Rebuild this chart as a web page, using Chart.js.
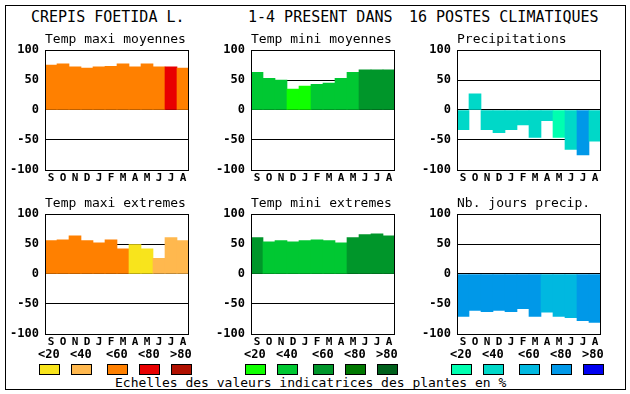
<!DOCTYPE html>
<html lang="fr">
  <head>
    <meta charset="UTF-8" />
    <title>Crepis foetida L.</title>
    <script src="https://cdn.jsdelivr.net/npm/chart.js"></script>
    <style>
      body {
        margin: 0;
        width: 630px;
        height: 394px;
        background: #fff;
        position: relative;
        overflow: hidden;
        font-family: "DejaVu Sans Mono", monospace;
      }
      .frame {
        position: absolute;
        left: 5px;
        top: 5px;
        width: 621px;
        height: 385px;
        border: 1px solid #000;
        box-sizing: border-box;
      }
      .txt {
        position: absolute;
        white-space: pre;
        color: #000;
        line-height: 1;
      }
      .big { font-size: 15px; }
      .sub { font-size: 13px; }
      .lab { font-size: 12px; font-weight: bold; }
      .box {
        position: absolute;
        width: 21px;
        height: 11px;
        border: 1px solid #000;
        box-sizing: border-box;
      }
      canvas { position: absolute; }
    </style>
  </head>
  <body>
    <div class="frame"></div>
    <div class="txt big" style="left: 31px; top: 10px">CREPIS FOETIDA L.</div>
    <div class="txt big" style="left: 248px; top: 10px">1-4 PRESENT DANS</div>
    <div class="txt big" style="left: 409px; top: 10px">16 POSTES CLIMATIQUES</div>
    <div class="txt sub" style="left: 115px; top: 376px">Echelles des valeurs indicatrices des plantes en %</div>

    <script>
      // months (sept -> aout)
      const months = ["S", "O", "N", "D", "J", "F", "M", "A", "M", "J", "J", "A"];
      const yTicks = [100, 50, 0, -50, -100];
      const legendLabels = ["<20", "<40", "<60", "<80", ">80"];

      // values (%)
      const maxiMoy = [75, 77, 72, 70, 72, 73, 77, 72, 77, 72, 72, 70];
      const miniMoy = [63, 53, 50, 35, 40, 43, 45, 53, 63, 67, 67, 67];
      const precip = [-33, 27, -33, -38, -33, -25, -46, -18, -46, -66, -75, -52];
      const maxiExt = [56, 57, 64, 56, 52, 57, 42, 49, 42, 26, 61, 56];
      const miniExt = [61, 54, 56, 54, 56, 57, 56, 52, 61, 66, 67, 64];
      const nbJours = [-71, -61, -63, -61, -63, -58, -71, -64, -71, -73, -78, -81];

      // indicator class of each bar (0: <20 ... 4: >80)
      const maxiMoyCls = [2, 2, 2, 2, 2, 2, 2, 2, 2, 2, 3, 2];
      const miniMoyCls = [1, 1, 1, 0, 0, 1, 1, 1, 1, 2, 2, 2];
      const precipCls = [1, 1, 1, 1, 1, 1, 1, 1, 0, 1, 3, 1];
      const maxiExtCls = [2, 2, 2, 2, 2, 2, 2, 0, 0, 1, 1, 1];
      const miniExtCls = [2, 1, 1, 1, 1, 1, 1, 1, 2, 2, 2, 2];
      const nbJoursCls = [3, 3, 3, 3, 3, 3, 3, 2, 2, 2, 3, 3];

      const warm = ["#f8e41c", "#ffb84e", "#ff8000", "#e80000", "#b01000"];
      const green = ["#10ff00", "#00c832", "#00962a", "#007800", "#00601c"];
      const blue = ["#00ffb0", "#00d8c8", "#00b8e0", "#0098e8", "#0000f0"];

      Chart.defaults.font.family = "'DejaVu Sans Mono', monospace";
      Chart.defaults.color = "#000";
      Chart.defaults.animation = false;

      const framePlugin = {
        id: "frame",
        afterDraw(chart) {
          const a = chart.chartArea;
          const c = chart.ctx;
          c.save();
          c.strokeStyle = "#000";
          c.lineWidth = 1;
          c.strokeRect(Math.round(a.left) + 0.5, Math.round(a.top) + 0.5,
            Math.round(a.right - a.left) - 1, Math.round(a.bottom - a.top));
          c.restore();
        },
      };

      const PW = 144, PH = 120;

      function panel(title, plotLeft, plotTop, values, cls, palette) {
        const cv = document.createElement("canvas");
        cv.width = 220;
        cv.height = 170;
        cv.style.width = "220px";
        cv.style.height = "170px";
        document.body.appendChild(cv);

        const t = document.createElement("div");
        t.className = "txt sub";
        t.style.left = plotLeft + "px";
        t.style.top = plotTop - 18 + "px";
        t.textContent = title;
        document.body.appendChild(t);

        const chart = new Chart(cv, {
          type: "bar",
          data: {
            labels: months,
            datasets: [
              {
                data: values,
                backgroundColor: cls.map((k) => palette[k]),
                borderWidth: 0,
                categoryPercentage: 1,
                barPercentage: 1,
              },
            ],
          },
          options: {
            responsive: false,
            devicePixelRatio: 1,
            layout: { padding: { left: 0, top: 10, right: 10, bottom: 10 } },
            plugins: { legend: { display: false }, tooltip: { enabled: false } },
            scales: {
              x: {
                grid: { display: false, drawTicks: false },
                border: { display: false },
                ticks: { font: { size: 11, weight: "bold" }, padding: 2, maxRotation: 0, autoSkip: false },
              },
              y: {
                min: -100,
                max: 100,
                z: 1,
                afterBuildTicks(s) { s.ticks = yTicks.map((v) => ({ value: v })); },
                ticks: { font: { size: 12, weight: "bold" }, padding: 6 },
                grid: {
                  drawTicks: false,
                  lineWidth: 1,
                  color: (c) => (Math.abs(c.tick.value) === 100 ? "rgba(0,0,0,0)" : "#000"),
                },
                border: { display: false },
                afterFit(s) { s.width = 45; },
              },
            },
          },
          plugins: [framePlugin],
        });

        // size the plot area to PW x PH, then place the canvas on the page
        let a = chart.chartArea;
        const pad = chart.options.layout.padding;
        pad.right += Math.round(a.right - a.left - PW);
        pad.bottom += Math.round(a.bottom - a.top - PH);
        chart.update();
        a = chart.chartArea;
        cv.style.left = plotLeft - Math.round(a.left) + "px";
        cv.style.top = plotTop - Math.round(a.top) + "px";
      }

      function legend(plotLeft, palette) {
        const offs = [-6, 26, 62, 94, 126];
        offs.forEach((o, i) => {
          const b = document.createElement("div");
          b.className = "box";
          b.style.left = plotLeft + o + "px";
          b.style.top = "364px";
          b.style.background = palette[i];
          document.body.appendChild(b);
          const l = document.createElement("div");
          l.className = "txt lab";
          l.style.left = plotLeft + o - 1 + "px";
          l.style.top = "348px";
          l.textContent = legendLabels[i];
          document.body.appendChild(l);
        });
      }

      panel("Temp maxi moyennes", 45, 50, maxiMoy, maxiMoyCls, warm);
      panel("Temp mini moyennes", 251, 50, miniMoy, miniMoyCls, green);
      panel("Precipitations", 457, 50, precip, precipCls, blue);
      panel("Temp maxi extremes", 45, 214, maxiExt, maxiExtCls, warm);
      panel("Temp mini extremes", 251, 214, miniExt, miniExtCls, green);
      panel("Nb. jours precip.", 457, 214, nbJours, nbJoursCls, blue);

      legend(45, warm);
      legend(251, green);
      legend(457, blue);
    </script>
  </body>
</html>
